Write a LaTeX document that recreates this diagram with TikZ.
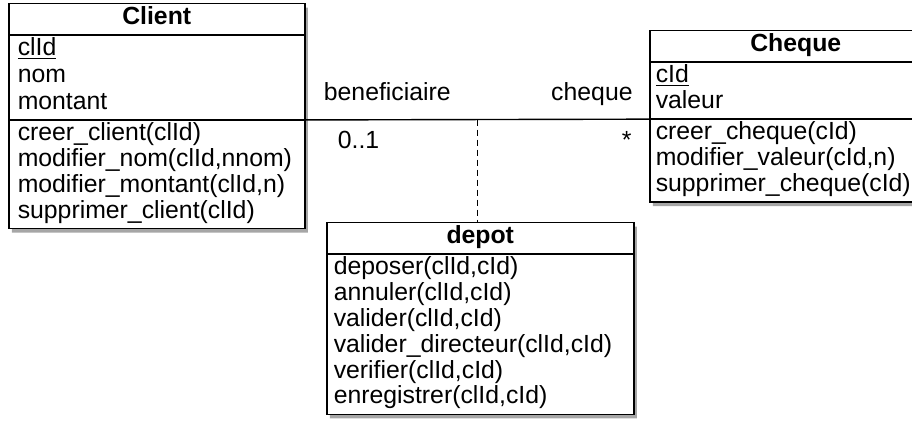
\documentclass[tikz,border=0pt]{standalone}
\usepackage{fontspec}
\setmainfont{Liberation Sans}
\setlength{\parindent}{0pt}
\usetikzlibrary{shapes.multipart,shadows}

\newcommand{\ctitle}[1]{\hbox to\hsize{\hss\textbf{#1}\strut\hss}}
\newcommand{\ckey}[1]{\smash{\underline{#1}}\strut}

\tikzset{
  umlclass/.style={rectangle split, rectangle split parts=3, draw, line width=.75pt,
    fill=white, align=left, inner ysep=1pt, inner xsep=3pt, anchor=north west,
    drop shadow={shadow xshift=1.5pt, shadow yshift=-2pt, fill=black, opacity=.35}},
  assoc/.style={line width=.7pt},
  dep/.style={line width=.65pt, dash pattern=on 3pt off 2pt},
  role/.style={inner sep=0pt}
}

\begin{document}
\begin{tikzpicture}[x=.5pt,y=-.5pt, font=\fontsize{12.4}{12.9}\selectfont]
\useasboundingbox (0,0) rectangle (912,427);

% classes
\node[umlclass, text width=139pt, inner xsep=4.5pt] (client) at (8,3)
{\ctitle{Client}
 \nodepart{two}\ckey{clId}\\[.5pt] nom\strut\\[.5pt] montant\strut
 \nodepart{three}creer\_client(clId)\strut\\ modifier\_nom(clId,nnom)\strut\\
 modifier\_montant(clId,n)\strut\\ supprimer\_client(clId)\strut};

\node[umlclass, text width=140pt] (cheque) at (649,30)
{\ctitle{Cheque}
 \nodepart{two}\ckey{cId}\\ valeur\strut
 \nodepart{three}creer\_cheque(cId)\strut\\ modifier\_valeur(cId,n)\strut\\
 supprimer\_cheque(cId)\strut};

\node[umlclass, rectangle split parts=2, text width=146.5pt, inner xsep=3.5pt] (depot) at (326,222)
{\ctitle{depot}
 \nodepart{two}deposer(clId,cId)\strut\\ annuler(clId,cId)\strut\\ valider(clId,cId)\strut\\
 valider\_directeur(clId,cId)\strut\\ verifier(clId,cId)\strut\\ enregistrer(clId,cId)\strut};

% association + class d'association
\draw[assoc] (client.two split east) -- coordinate (mid) (cheque.two split west);
\draw[dep] (mid) -- (mid |- depot.north);

\node[role, anchor=base west] (benef) at ([xshift=9pt,yshift=9.5pt]client.two split east) {beneficiaire};
\node[role, anchor=base east] (chq) at ([xshift=-8pt,yshift=9.5pt]cheque.two split west) {cheque};
\node[role, anchor=base west] (mult1) at ([xshift=16pt,yshift=-14.5pt]client.two split east) {0..1};
\node[role, anchor=base east] (mult2) at ([xshift=-8.5pt,yshift=-14.5pt]cheque.two split west) {*};

\end{tikzpicture}
\end{document}
